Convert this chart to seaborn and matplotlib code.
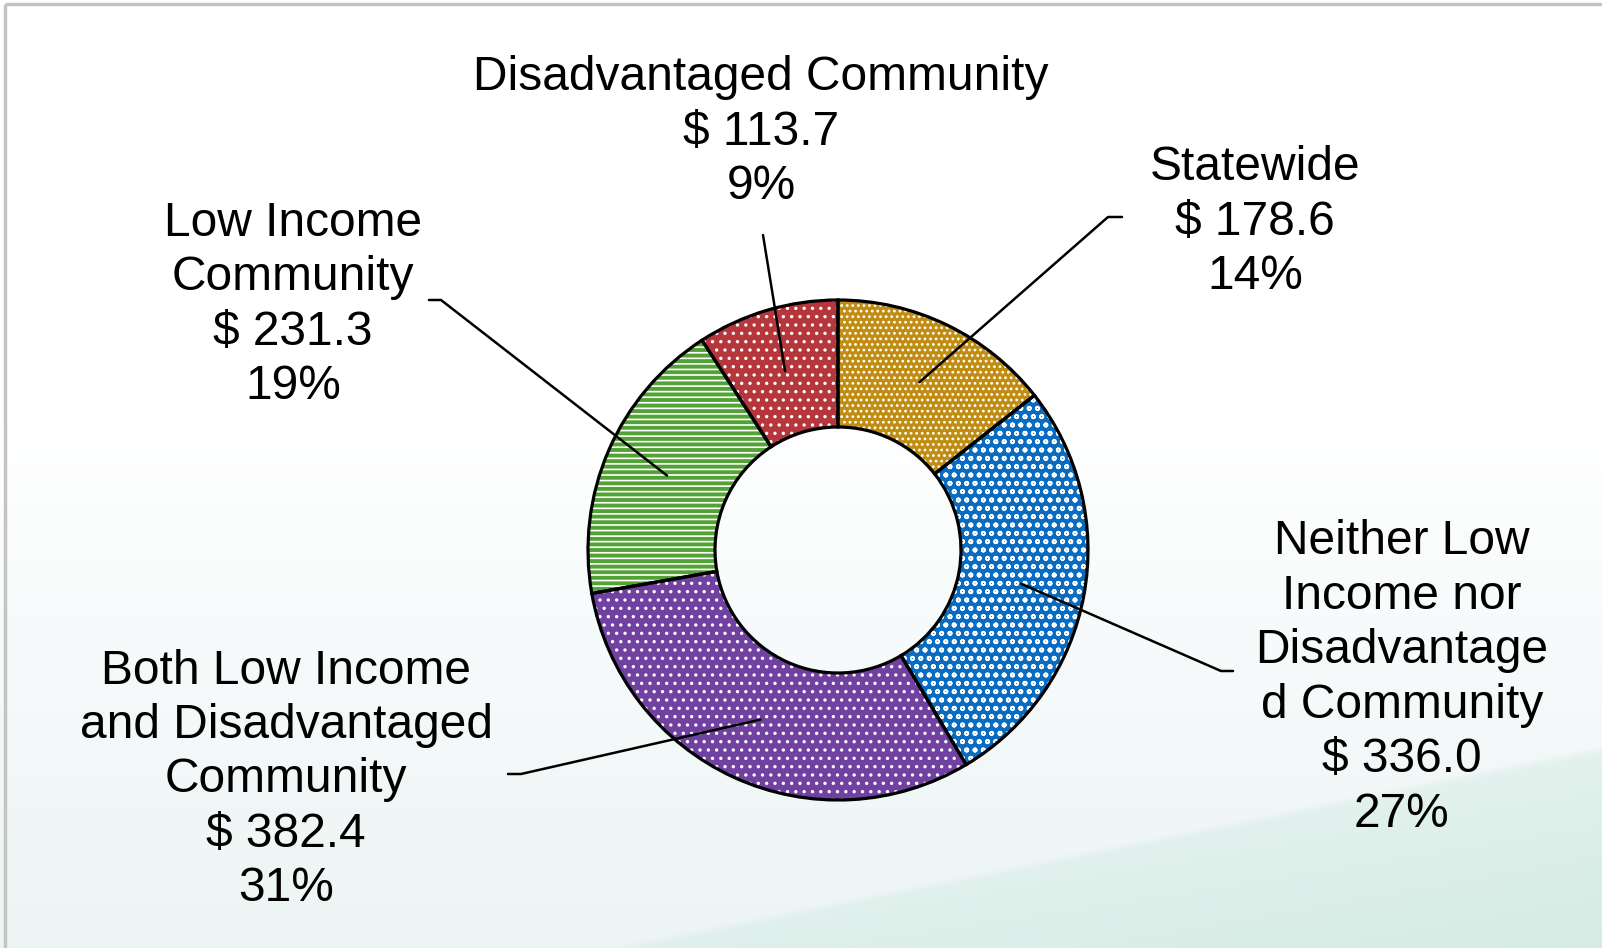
import numpy as np
import matplotlib
matplotlib.use("Agg")
import matplotlib.pyplot as plt
import seaborn as sns

# --- data ---
categories = [
    "Statewide",
    "Neither Low\nIncome nor\nDisadvantage\nd Community",
    "Both Low Income\nand Disadvantaged\nCommunity",
    "Low Income\nCommunity",
    "Disadvantaged Community",
]
values = [178.6, 336.0, 382.4, 231.3, 113.7]  # millions of dollars
colors = ["#C08D12", "#0A6CC0", "#7141A1", "#52A236", "#B6373B"]
hatches = ["...", "oo", "..", "---", ".."]

sns.set_theme(style="white")
plt.rcParams["font.family"] = ["Liberation Sans", "DejaVu Sans"]
plt.rcParams["hatch.linewidth"] = 1.2

W, H = 1602, 948
fig = plt.figure(figsize=(W / 100, H / 100), dpi=100)
ax = fig.add_axes([0, 0, 1, 1])
ax.set_xlim(0, W)
ax.set_ylim(0, H)
ax.set_aspect("equal")
ax.axis("off")

# --- background: soft gradient to mint in the lower right ---
yy, xx = np.mgrid[0:H, 0:W]
t = np.clip((yy - 420) / (H - 420), 0, 1)
bg = np.ones((H, W, 3))
base_low = np.array([0.925, 0.957, 0.957])
bg = bg * (1 - t[..., None]) + base_low * t[..., None]
# mint wedge below a diagonal
line_y = 948 - (948 - 745) * (xx - 600) / (W - 600)
depth = np.clip((yy - line_y) / 200, 0, 1)
mint = (xx > 560)
soft = np.clip((yy - line_y) / 8, 0, 1)
mint_col = np.array([0.835, 0.925, 0.895])
m = (mint * soft * (0.5 + 0.5 * depth))[..., None]
bg = bg * (1 - m) + mint_col * m
ax.imshow(bg, extent=(0, W, 0, H), origin="upper", zorder=0, aspect="auto")

# frame lines at top and left
ax.plot([5, W], [H - 4, H - 4], color="#C4C4C4", lw=2.5, zorder=1, solid_capstyle="butt")
ax.plot([5, 5], [0, H - 4], color="#C4C4C4", lw=2.5, zorder=1, solid_capstyle="butt")

# --- donut ---
cx, cy, R = 838, H - 550, 250
ring = 127
wedges, _ = ax.pie(
    values, colors=colors, startangle=90, counterclock=False,
    radius=R, center=(cx, cy),
    wedgeprops=dict(width=ring, edgecolor="white", linewidth=0),
)
for w, h in zip(wedges, hatches):
    w.set_hatch(h)
    w.set_zorder(2)
outline, _ = ax.pie(
    values, colors=["none"] * len(values), startangle=90, counterclock=False,
    radius=R, center=(cx, cy),
    wedgeprops=dict(width=ring, edgecolor="black", linewidth=2.3, fill=False),
)
for w in outline:
    w.set_zorder(3)
ax.set_xlim(0, W)
ax.set_ylim(0, H)

# --- labels ---
total = sum(values)
labels = [f"{c}\n$ {v:.1f}\n{v / total * 100:.0f}%" for c, v in zip(categories, values)]

label_pos = [(1255, H - 222), (1402, H - 678), (286, H - 780), (293, H - 305), (761, H - 132)]
# leader line path (outside points), ends at wedge midpoint
leaders = [
    [(1122, H - 217), (1108, H - 217)],
    [(1233, H - 671), (1221, H - 671)],
    [(508, H - 774), (521, H - 774)],
    [(429, H - 300), (441, H - 300)],
    [(763, H - 235)],
]

r_mid = R - ring / 2
for w, lab, pos, pts in zip(wedges, labels, label_pos, leaders):
    ang = np.deg2rad((w.theta1 + w.theta2) / 2)
    end = (cx + r_mid * np.cos(ang), cy + r_mid * np.sin(ang))
    path = pts + [end]
    ax.plot([p[0] for p in path], [p[1] for p in path], color="black", lw=1.8, zorder=4)
    ax.text(pos[0], pos[1], lab, ha="center", va="center", fontsize=34.5,
            color="black", linespacing=1.27, zorder=5)

fig.savefig("out.png", dpi=100)
